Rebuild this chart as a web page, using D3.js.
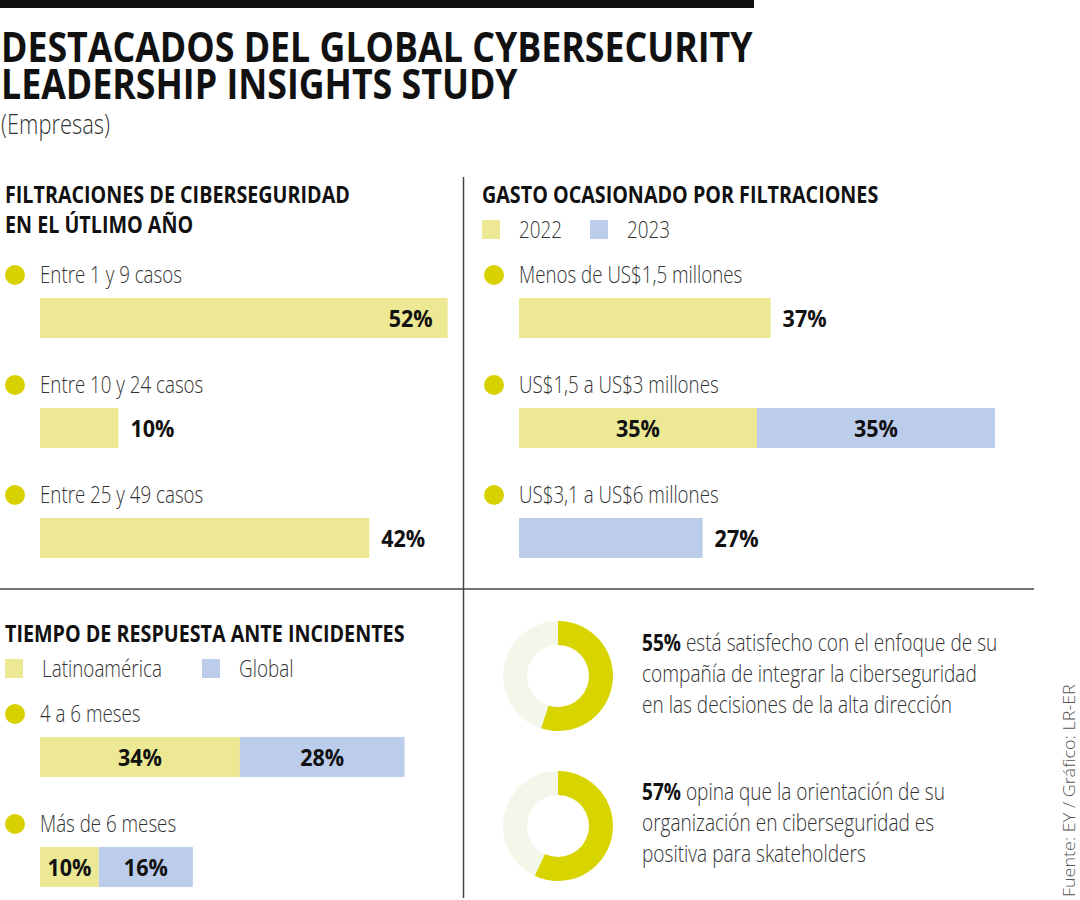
<!DOCTYPE html>
<html><head><meta charset="utf-8">
<script src="https://cdn.jsdelivr.net/npm/d3@7"></script>
<style>
html,body{margin:0;padding:0;background:#fff;}
svg text{font-family:'Open Sans','Noto Sans',sans-serif;}
</style></head>
<body><svg id="c" width="1080" height="900"></svg>
<script>
// ---- data ----
const titleLines = ["DESTACADOS DEL GLOBAL CYBERSECURITY", "LEADERSHIP INSIGHTS STUDY"];
const subtitle = "(Empresas)";
const filtTitle = ["FILTRACIONES DE CIBERSEGURIDAD", "EN EL ÚTLIMO AÑO"];
const filtCats = ["Entre 1 y 9 casos", "Entre 10 y 24 casos", "Entre 25 y 49 casos"];
const filtVals = [52, 10, 42];
const gastoTitle = "GASTO OCASIONADO POR FILTRACIONES";
const gastoSeries = ["2022", "2023"];
const gastoCats = ["Menos de US$1,5 millones", "US$1,5 a US$3 millones", "US$3,1 a US$6 millones"];
const gasto2022 = [37, 35, 0];
const gasto2023 = [0, 35, 27];
const tiempoTitle = "TIEMPO DE RESPUESTA ANTE INCIDENTES";
const tiempoSeries = ["Latinoamérica", "Global"];
const tiempoCats = ["4 a 6 meses", "Más de 6 meses"];
const tiempoLatam = [34, 10];
const tiempoGlobal = [28, 16];
const donutVals = [55, 57];
const donutTexts = [
  ["está satisfecho con el enfoque de su", "compañía de integrar la ciberseguridad", "en las decisiones de la alta dirección"],
  ["opina que la orientación de su", "organización en ciberseguridad es", "positiva para skateholders"]
];
const source = "Fuente: EY / Gráfico: LR-ER";

// ---- styles ----
const C = {yellow:"#ece894", blue:"#bccdec", dot:"#d9d000", donut:"#d8d400", donutBg:"#f3f7ea", ink:"#111", text:"#1e1e1e", rule:"#444"};
const svg = d3.select("#c");

// horizontal condensing factor calibrated on a sample string (font style only)
function fit(sample, size, weight, target){
  const t = svg.append("text").attr("font-size",size).attr("font-weight",weight).text(sample);
  const w = t.node().getComputedTextLength();
  t.remove();
  return target / w;
}
const S = {
  title:   {size:41, weight:700, sx: fit(titleLines[0], 41, 700, 752)},
  sub:     {size:27, weight:300, sx: fit(subtitle, 27, 300, 109)},
  head:    {size:24, weight:700, sx: fit(filtTitle[0], 24, 700, 345)},
  label:   {size:23, weight:300, sx: fit(filtCats[0], 23, 300, 142)},
  legend:  {size:23, weight:300, sx: fit(tiempoSeries[0], 23, 300, 120)},
  value:   {size:24, weight:700, sx: fit("52%", 24, 700, 44)},
  body:    {size:24, weight:300, sx: fit(donutTexts[0][1], 24, 300, 335)},
  src:     {size:17, weight:300, sx: fit(source, 17, 300, 213)}
};
function T(x, y, str, st, opt={}){
  const t = svg.append("text")
    .attr("transform", `translate(${x},${y})${opt.rot?` rotate(${opt.rot})`:""} scale(${st.sx},1)`)
    .attr("font-size", st.size).attr("font-weight", st.weight)
    .attr("fill", opt.fill || C.text).attr("text-anchor", opt.anchor || "start");
  if(str!==null) t.text(str);
  return t;
}

// top bar
svg.append("rect").attr("x",0).attr("y",0).attr("width",754).attr("height",8).attr("fill","#111");
// title
titleLines.forEach((l,i)=>T(1, 62+i*37, l, S.title, {fill:C.ink}));
T(1, 134, subtitle, S.sub, {fill:"#333"});

// dividers
svg.append("line").attr("x1",463.5).attr("x2",463.5).attr("y1",177).attr("y2",898).attr("stroke",C.rule).attr("stroke-width",1.5);
svg.append("line").attr("x1",0).attr("x2",1034).attr("y1",589).attr("y2",589).attr("stroke",C.rule).attr("stroke-width",1.5);

function heading(lines, x, y){
  lines.forEach((l,i)=>T(x, y+i*30, l, S.head, {fill:C.ink}));
}
function legend(items, x, y, gap){
  const cols=[C.yellow,C.blue];
  items.forEach((t,i)=>{
    const lx = x + gap[i];
    svg.append("rect").attr("x",lx).attr("y",y).attr("width",18).attr("height",19).attr("fill",cols[i]);
    T(lx+37, y+18, t, S.legend, {fill:"#333"});
  });
}

function panel(cats, series, xScale, yBand, labelX, rightLimit){
  const cols=[C.yellow,C.blue];
  cats.forEach((cat,i)=>{
    const y0 = yBand(cat);
    svg.append("circle").attr("cx",labelX-25).attr("cy",y0+21).attr("r",10).attr("fill",C.dot);
    T(labelX, y0+29, cat, S.label, {fill:"#333"});
    let acc=0;
    const segs=[];
    series.forEach((s,k)=>{
      const v=s[i];
      if(v>0){
        const xa=xScale(acc), xb=xScale(acc+v);
        svg.append("rect").attr("x",xa).attr("y",y0+44).attr("width",xb-xa).attr("height",40).attr("fill",cols[k]);
        segs.push({v,xa,xb});
        acc+=v;
      }
    });
    const ty = y0+44+29;
    if(segs.length>1){
      segs.forEach(sg=>T((sg.xa+sg.xb)/2, ty, sg.v+"%", S.value, {fill:C.ink, anchor:"middle"}));
    } else {
      const sg=segs[0];
      const inside = sg.xb + 70 > rightLimit;
      T(inside? sg.xb-15 : sg.xb+12, ty, sg.v+"%", S.value, {fill:C.ink, anchor: inside?"end":"start"});
    }
  });
}

// Panel 1
heading(filtTitle, 5, 203);
const x1 = d3.scaleLinear().domain([0,100]).range([40,824]);
const y1 = d3.scaleBand().domain(filtCats).range([254,584]);
panel(filtCats, [filtVals], x1, y1, 40, 460);

// Panel 2
heading([gastoTitle], 482, 203);
legend(gastoSeries, 482, 220, [0,108]);
const x2 = d3.scaleLinear().domain([0,100]).range([519,1199]);
const y2 = d3.scaleBand().domain(gastoCats).range([254,584]);
panel(gastoCats, [gasto2022, gasto2023], x2, y2, 519, 1030);

// Panel 3
heading([tiempoTitle], 5, 642);
legend(tiempoSeries, 5, 659, [0,197]);
const x3 = d3.scaleLinear().domain([0,100]).range([40,628]);
const y3 = d3.scaleBand().domain(tiempoCats).range([693,913]);
panel(tiempoCats, [tiempoLatam, tiempoGlobal], x3, y3, 40, 460);

// Donuts
const pie = d3.pie().sort(null).value(d=>d);
const arc = d3.arc().innerRadius(31).outerRadius(55);
donutVals.forEach((v,i)=>{
  const cy = 676 + i*150;
  const g = svg.append("g").attr("transform",`translate(558,${cy})`);
  g.selectAll("path").data(pie([v,100-v])).join("path").attr("d",arc)
    .attr("fill",(d,j)=>j===0?C.donut:C.donutBg);
});
donutTexts.forEach((lines,i)=>{
  const by = 651 + i*149;
  lines.forEach((ln,j)=>{
    const t = T(642, by+j*31, null, S.body, {fill:"#333"});
    if(j===0) t.append("tspan").attr("font-weight",700).attr("fill",C.ink).text(donutVals[i]+"% ");
    t.append("tspan").text(ln);
  });
});

// source
T(1075, 897, source, S.src, {fill:"#555", rot:-90});
</script></body></html>
